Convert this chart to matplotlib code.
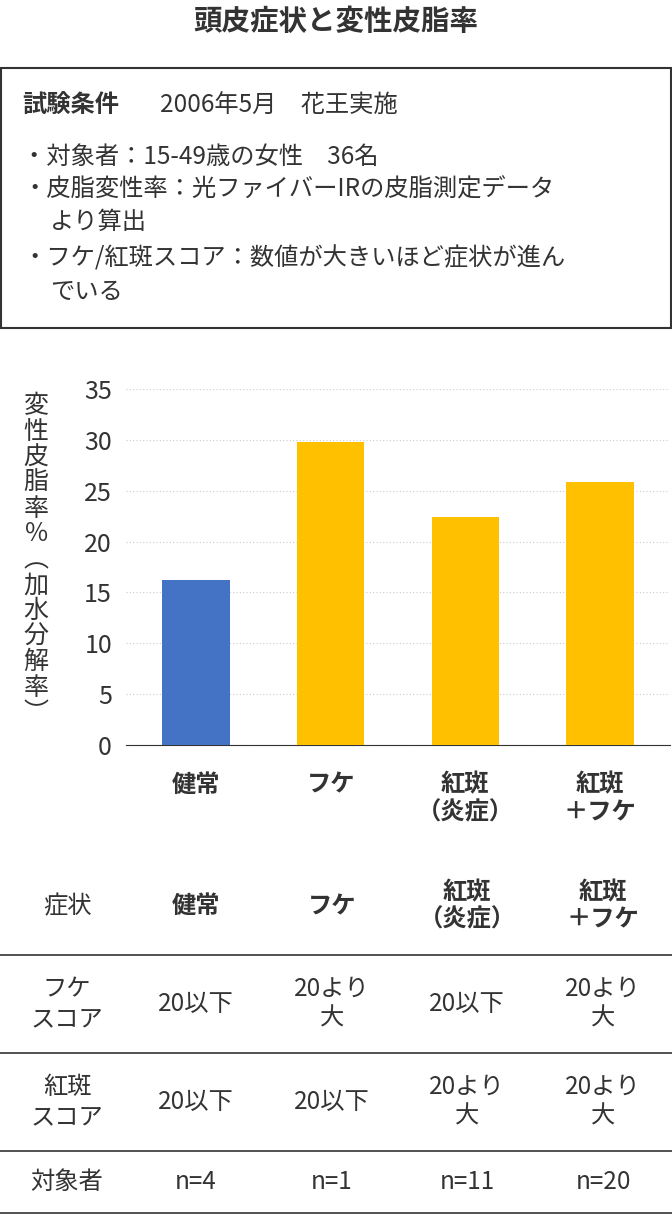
import matplotlib
matplotlib.use("Agg")
import matplotlib.pyplot as plt
from matplotlib.patches import Rectangle
from matplotlib.lines import Line2D

plt.rcParams["font.family"] = "Noto Sans CJK JP"

categories = ["健常", "フケ", "紅斑\n（炎症）", "紅斑\n＋フケ"]
values = [16.2, 29.8, 22.4, 25.9]
colors = ["#4472C4", "#FFC000", "#FFC000", "#FFC000"]
yticks = [0, 5, 10, 15, 20, 25, 30, 35]
row_labels = ["フケ\nスコア", "紅斑\nスコア", "対象者"]
table_rows = [
    ["20以下", "20より\n大", "20以下", "20より\n大"],
    ["20以下", "20以下", "20より\n大", "20より\n大"],
    ["n=4", "n=1", "n=11", "n=20"],
]

W, H = 672, 1218
TC = "#333333"
FS = 17.5
fig = plt.figure(figsize=(W / 100, H / 100), dpi=100)

def fx(x): return x / W
def fy(y): return 1 - y / H

fig.text(fx(336), fy(22), "頭皮症状と変性皮脂率", ha="center", va="center",
         fontsize=20.5, fontweight="bold", color=TC)
fig.patches.append(Rectangle((fx(1), fy(328)), fx(670), (328 - 68) / H,
                             transform=fig.transFigure, fill=False, ec=TC, lw=1.5))
fig.text(fx(22), fy(106), "試験条件", va="center", fontsize=FS, color=TC, fontweight="bold")
fig.text(fx(160), fy(106), "2006年5月　花王実施", va="center", fontsize=FS, color=TC)
lines = [(22, 157, "・対象者：15-49歳の女性　36名"),
         (22, 190, "・皮脂変性率：光ファイバーIRの皮脂測定データ"),
         (50, 222, "より算出"),
         (22, 258, "・フケ/紅斑スコア：数値が大きいほど症状が進ん"),
         (50, 292, "でいる")]
for x, y, t in lines:
    fig.text(fx(x), fy(y), t, va="center", fontsize=FS, color=TC)

ax = fig.add_axes([fx(126), fy(745), fx(670 - 126), (745 - 389) / H])
xs = range(len(values))
ax.bar(xs, values, width=0.5, color=colors, zorder=3)
ax.set_ylim(0, 35)
ax.set_xlim(-0.52, 3.52)
ax.set_yticks(yticks)
ax.tick_params(axis="y", length=0, labelsize=18, labelcolor=TC, pad=10)
ax.set_xticks([])
ax.grid(axis="y", color="#cccccc", linestyle=(0, (1, 2)), lw=0.8, zorder=0)
for s in ["top", "right", "left"]:
    ax.spines[s].set_visible(False)
ax.spines["bottom"].set_color(TC)
for i, c in enumerate(categories):
    ax.annotate(c, (i, 0), xytext=(0, -20), textcoords="offset points",
                ha="center", va="top", fontsize=FS, fontweight="bold",
                color=TC, linespacing=1.2)

ylabel = "変性皮脂率％︵加水分解率︶"
fig.text(fx(36), fy(560), "\n".join(ylabel), ha="center", va="center",
         fontsize=18, color=TC, linespacing=0.98)

colx = [196, 332, 467, 603]
fig.text(fx(67), fy(906), "症状", ha="center", va="center", fontsize=FS, color=TC)
for x, c in zip(colx, categories):
    fig.text(fx(x), fy(906), c, ha="center", va="center", fontsize=FS,
             fontweight="bold", color=TC, linespacing=1.2)
rowy = [1004, 1102, 1182]
for y in [955, 1053, 1151, 1213]:
    fig.add_artist(Line2D([0, 1], [fy(y), fy(y)], color=TC, lw=1.2))
for r, y in enumerate(rowy):
    fig.text(fx(67), fy(y), row_labels[r], ha="center", va="center",
             fontsize=FS, color=TC, linespacing=1.2)
    for x, t in zip(colx, table_rows[r]):
        fig.text(fx(x), fy(y), t, ha="center", va="center", fontsize=FS,
                 color=TC, linespacing=1.2)

fig.savefig("out.png", dpi=100, facecolor="white")
